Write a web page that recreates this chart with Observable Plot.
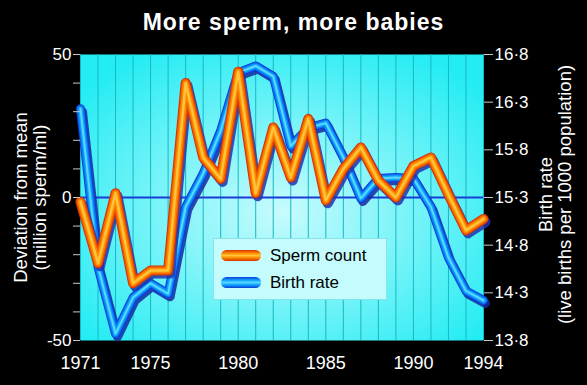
<!DOCTYPE html>
<html><head><meta charset="utf-8">
<script src="https://cdn.jsdelivr.net/npm/d3@7"></script>
<script src="https://cdn.jsdelivr.net/npm/@observablehq/plot@0.6"></script>
<style>
body{margin:0;background:#000;width:587px;height:385px;overflow:hidden;font-family:"Liberation Sans",Arial,Helvetica,sans-serif;}
#wrap{position:relative;width:587px;height:385px;background:#000;}
#title{height:45px;line-height:45px;text-align:center;color:#fff;font-weight:bold;font-size:23px;letter-spacing:1px;padding-left:0px;}
#chart svg{display:block;}
#legend{position:absolute;left:213px;top:238px;width:174px;height:62px;background:#c4fbfd;border:1px solid #86e4ea;box-sizing:border-box;}
.item{position:absolute;left:0;height:20px;width:170px;}
.pill{position:absolute;left:7px;top:4px;width:40px;height:11px;border-radius:6px;}
.lab{position:absolute;left:56px;top:0;font-size:17px;line-height:20px;color:#000;}
</style></head><body>
<div id="wrap">
<div id="title">More sperm, more babies</div>
<div id="chart"></div>
<div id="legend"></div>
</div>
<script>
const years = [1971,1972,1973,1974,1975,1976,1977,1978,1979,1980,1981,1982,1983,1984,1985,1986,1987,1988,1989,1990,1991,1992,1993,1994];
const spermDeviation = [-1.5,-23,1.5,-30,-25.5,-25.5,40,14,6.5,44,1.5,24.5,7,27.5,-1,10,17.5,6,0,11,14,1,-11.5,-7.5];
const birthRate = [16.23,14.57,13.87,14.25,14.40,14.29,15.20,15.55,16.00,16.61,16.68,16.57,15.84,16.03,16.08,15.72,15.29,15.50,15.51,15.50,15.20,14.67,14.32,14.22];
const xTicks = [1971,1975,1980,1985,1990,1994];
const leftTicks = [-50,0,50];
const leftMinorTicks = [-50,-40,-30,-20,-10,0,10,20,30,40,50];
const rightTicks = [13.8,14.3,14.8,15.3,15.8,16.3,16.8];
const seriesNames = ["Sperm count","Birth rate"];
const leftLabel = "Deviation from mean\n(million sperm/ml)";
const rightLabel = "Birth rate\n(live births per 1000 population)";

// right axis aligned with left: 15.3 <-> 0, 16.8 <-> 50
const rateMid = rightTicks[3];
const rateSpan = (rightTicks[6] - rightTicks[0]) / (leftTicks[2] - leftTicks[0]);
const toV = r => Math.round(((r - rateMid) / rateSpan) * 1000) / 1000;
const fromV = v => rateMid + v * rateSpan;
const fmtRate = r => r.toFixed(1).replace(".", "·");

const sperm = years.map((y, i) => ({year: y, v: spermDeviation[i]}));
const birth = years.map((y, i) => ({year: y, v: toV(birthRate[i])}));

function tube(data, layers, shadow) {
  const common = {x: "year", y: "v", strokeLinejoin: "round", strokeLinecap: "round"};
  return [
    Plot.line(data, {...common, stroke: shadow, strokeOpacity: 0.85, strokeWidth: layers[0][1], dx: 2, dy: 3}),
    ...layers.map(([c, w]) => Plot.line(data, {...common, stroke: c, strokeWidth: w}))
  ];
}

const font = '"Liberation Sans", Arial, Helvetica, sans-serif';

const chart = Plot.plot({
  width: 587, height: 340,
  marginLeft: 80, marginRight: 104, marginTop: 9, marginBottom: 45,
  x: {domain: [years[0], years[years.length - 1]]},
  y: {domain: [leftTicks[0], leftTicks[2]]},
  style: {background: "transparent", color: "#fff", fontFamily: font, fontSize: "17px", overflow: "visible"},
  marks: [
    Plot.frame({fill: "url(#bgGrad)", stroke: null}),
    Plot.ruleX(years, {stroke: "#17b8c4", strokeWidth: 1}),
    Plot.ruleY([0], {stroke: "#1a3cd6", strokeWidth: 2}),
    ...tube(birth, [["#0a3ed8", 9], ["#0a78f0", 7], ["#12a6ff", 4.5], ["#5ad8ff", 2]], "#1628a0"),
    ...tube(sperm, [["#d83200", 10], ["#f06000", 8], ["#ff8c00", 5.5], ["#ffc43a", 2.5]], "#1e34b0"),
    Plot.axisX(xTicks, {tickSize: 0, tickPadding: 16, tickFormat: d => String(d), fontSize: 18, label: null}),
    Plot.axisY(leftMinorTicks, {tickSize: 7, tickFormat: () => "", stroke: "#c8c8c8", label: null}),
    Plot.axisY(leftTicks, {tickSize: 7, tickPadding: 2, stroke: "#c8c8c8", tickFormat: d => String(d), label: null}),
    Plot.axisY(rightTicks.map(toV), {anchor: "right", tickSize: 9, tickPadding: 2, stroke: "#c8c8c8", tickFormat: v => fmtRate(fromV(v)), label: null}),
    Plot.text([leftLabel], {frameAnchor: "left", rotate: -90, dx: -50, lineAnchor: "middle", textAnchor: "middle", fontSize: 18.5, lineHeight: 1.03, fill: "#fff"}),
    Plot.text([rightLabel], {frameAnchor: "right", rotate: -90, dx: 72, dy: -3, lineAnchor: "middle", textAnchor: "middle", fontSize: 18.5, lineHeight: 1.03, fill: "#fff"})
  ]
});

const svg = d3.select(chart);
const defs = svg.insert("defs", ":first-child");
const g = defs.append("radialGradient").attr("id", "bgGrad").attr("cx", "50%").attr("cy", "55%").attr("r", "65%");
g.append("stop").attr("offset", "0%").attr("stop-color", "#c8fbfd");
g.append("stop").attr("offset", "100%").attr("stop-color", "#24ecf3");
document.getElementById("chart").appendChild(chart);

const pillGrad = [
  "linear-gradient(to bottom,#d83200 0%,#ff8c00 30%,#ffc43a 50%,#ff8c00 70%,#d83200 100%)",
  "linear-gradient(to bottom,#0a3ed8 0%,#12a6ff 30%,#5ad8ff 50%,#12a6ff 70%,#0a3ed8 100%)"
];
const legend = document.getElementById("legend");
seriesNames.forEach((name, i) => {
  const it = document.createElement("div");
  it.className = "item";
  it.style.top = (7 + i * 27) + "px";
  it.innerHTML = `<div class="pill" style="background:${pillGrad[i]}"></div><div class="lab">${name}</div>`;
  legend.appendChild(it);
});
</script>
</body></html>
